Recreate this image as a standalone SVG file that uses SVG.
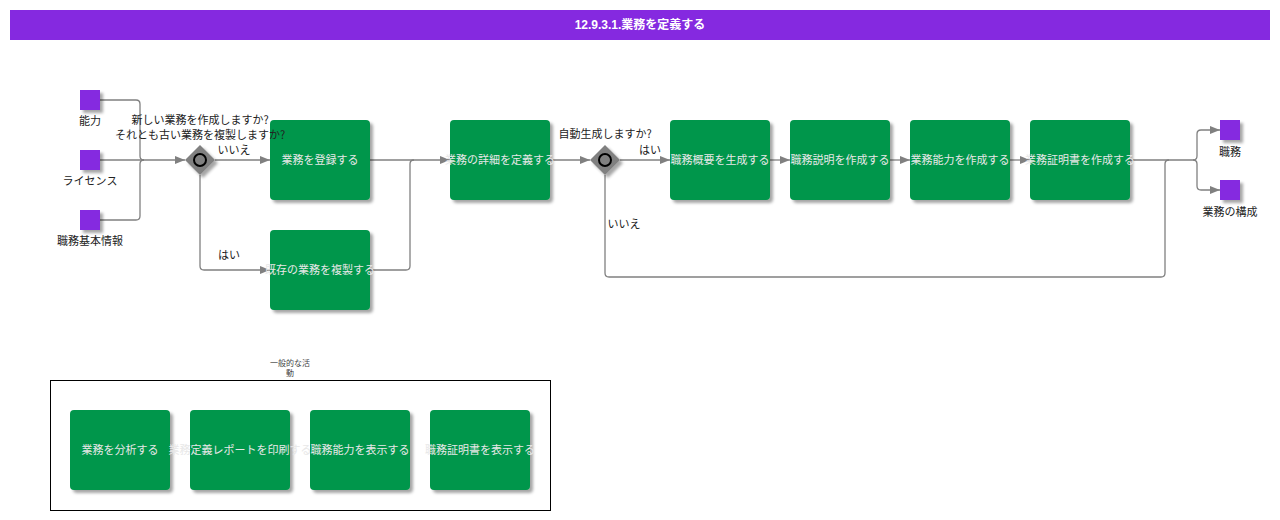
<svg xmlns="http://www.w3.org/2000/svg" width="1280" height="520" viewBox="0 0 1280 520">
<style>
.t{font-family:"Noto Sans CJK JP","Liberation Sans",sans-serif;font-size:11px;fill:#222}
.bt{font-family:"Noto Sans CJK JP","Liberation Sans",sans-serif;font-size:11px;fill:#e8e8e8}
.box{fill:#00964b}
.sq{fill:#8529e0}
.c{fill:none;stroke:#808080;stroke-width:1.3}
.gw{fill:#808080}
</style>
<defs>
<filter id="sh" x="-20%" y="-20%" width="150%" height="150%">
<feGaussianBlur in="SourceAlpha" stdDeviation="1.5"/>
<feOffset dx="3" dy="3" result="o"/>
<feFlood flood-color="#000" flood-opacity="0.35"/>
<feComposite in2="o" operator="in"/>
<feMerge><feMergeNode/><feMergeNode in="SourceGraphic"/></feMerge>
</filter>
<marker id="ar" viewBox="0 0 10 10" refX="10" refY="5" markerWidth="10" markerHeight="10" markerUnits="userSpaceOnUse" orient="auto">
<path d="M0,1 L10,5 L0,9 z" fill="#808080"/>
</marker>
</defs>
<rect width="1280" height="520" fill="#fff"/>
<g id="title">
<rect x="10" y="10" width="1260" height="30" fill="#8529e0"/>
<text x="640" y="29" text-anchor="middle" font-family="'Liberation Sans','Noto Sans CJK JP',sans-serif" font-size="12" font-weight="bold" fill="#fff">12.9.3.1.業務を定義する</text>
</g>
<g id="connectors">
<path class="c" d="M100,100 H136 Q140,100 140,104 V156 Q140,160 144,160"/>
<path class="c" d="M100,220 H136 Q140,220 140,216 V164 Q140,160 144,160"/>
<path class="c" d="M100,160 H185" marker-end="url(#ar)"/>
<path class="c" d="M215,160 H270" marker-end="url(#ar)"/>
<path class="c" d="M200,175 V266 Q200,270 204,270 H270" marker-end="url(#ar)"/>
<path class="c" d="M370,160 H450" marker-end="url(#ar)"/>
<path class="c" d="M370,270 H406 Q410,270 410,266 V164 Q410,160 414,160"/>
<path class="c" d="M550,160 H590" marker-end="url(#ar)"/>
<path class="c" d="M620,160 H670" marker-end="url(#ar)"/>
<path class="c" d="M605,175 V273 Q605,277 609,277 H1161 Q1165,277 1165,273 V164 Q1165,160 1169,160"/>
<path class="c" d="M770,160 H790" marker-end="url(#ar)"/>
<path class="c" d="M890,160 H910" marker-end="url(#ar)"/>
<path class="c" d="M1010,160 H1030" marker-end="url(#ar)"/>
<path class="c" d="M1130,160 H1193 Q1197,160 1197,156 V134 Q1197,130 1201,130 H1220" marker-end="url(#ar)"/>
<path class="c" d="M1193,160 Q1197,160 1197,164 V186 Q1197,190 1201,190 H1220" marker-end="url(#ar)"/>
<text class="t" x="234" y="154" text-anchor="middle">いいえ</text>
<text class="t" x="229" y="259" text-anchor="middle">はい</text>
<text class="t" x="650" y="154" text-anchor="middle">はい</text>
<text class="t" x="624" y="228" text-anchor="middle">いいえ</text>
</g>
<g id="in1"><rect class="sq" x="80" y="90" width="20" height="20" filter="url(#sh)"/><text class="t" x="90" y="125" text-anchor="middle">能力</text></g>
<g id="in2"><rect class="sq" x="80" y="150" width="20" height="20" filter="url(#sh)"/><text class="t" x="90" y="185" text-anchor="middle">ライセンス</text></g>
<g id="in3"><rect class="sq" x="80" y="210" width="20" height="20" filter="url(#sh)"/><text class="t" x="90" y="245" text-anchor="middle">職務基本情報</text></g>
<g id="b1"><rect class="box" x="270" y="120" width="100" height="80" rx="4" filter="url(#sh)"/><text class="bt" x="320" y="164" text-anchor="middle">業務を登録する</text></g>
<g id="b2"><rect class="box" x="270" y="230" width="100" height="80" rx="4" filter="url(#sh)"/><text class="bt" x="320" y="274" text-anchor="middle">既存の業務を複製する</text></g>
<g id="gw1">
<path class="gw" d="M200,145 L215,160 L200,175 L185,160 z" filter="url(#sh)"/>
<circle cx="200" cy="160" r="6" fill="none" stroke="#000" stroke-width="2"/>
<text class="t" x="200" y="124" text-anchor="middle">新しい業務を作成しますか?</text>
<text class="t" x="200" y="139" text-anchor="middle">それとも古い業務を複製しますか?</text>
</g>
<g id="b3"><rect class="box" x="450" y="120" width="100" height="80" rx="4" filter="url(#sh)"/><text class="bt" x="500" y="164" text-anchor="middle">業務の詳細を定義する</text></g>
<g id="gw2">
<path class="gw" d="M605,145 L620,160 L605,175 L590,160 z" filter="url(#sh)"/>
<circle cx="605" cy="160" r="6" fill="none" stroke="#000" stroke-width="2"/>
<text class="t" x="605" y="138" text-anchor="middle">自動生成しますか?</text>
</g>
<g id="b4"><rect class="box" x="670" y="120" width="100" height="80" rx="4" filter="url(#sh)"/><text class="bt" x="720" y="164" text-anchor="middle">職務概要を生成する</text></g>
<g id="b5"><rect class="box" x="790" y="120" width="100" height="80" rx="4" filter="url(#sh)"/><text class="bt" x="840" y="164" text-anchor="middle">職務説明を作成する</text></g>
<g id="b6"><rect class="box" x="910" y="120" width="100" height="80" rx="4" filter="url(#sh)"/><text class="bt" x="960" y="164" text-anchor="middle">業務能力を作成する</text></g>
<g id="b7"><rect class="box" x="1030" y="120" width="100" height="80" rx="4" filter="url(#sh)"/><text class="bt" x="1080" y="164" text-anchor="middle">業務証明書を作成する</text></g>
<g id="out1"><rect class="sq" x="1220" y="120" width="20" height="20" filter="url(#sh)"/><text class="t" x="1230" y="156" text-anchor="middle">職務</text></g>
<g id="out2"><rect class="sq" x="1220" y="180" width="20" height="20" filter="url(#sh)"/><text class="t" x="1230" y="216" text-anchor="middle">業務の構成</text></g>
<g id="general">
<rect x="50.5" y="380.5" width="500" height="130" fill="none" stroke="#000" stroke-width="1"/>
<text x="290" y="366" text-anchor="middle" font-family="'Noto Sans CJK JP',sans-serif" font-size="8" fill="#444">一般的な活</text>
<text x="290" y="376" text-anchor="middle" font-family="'Noto Sans CJK JP',sans-serif" font-size="8" fill="#444">動</text>
</g>
<g id="g1"><rect class="box" x="70" y="410" width="100" height="80" rx="4" filter="url(#sh)"/><text class="bt" x="120" y="454" text-anchor="middle">業務を分析する</text></g>
<g id="g2"><rect class="box" x="190" y="410" width="100" height="80" rx="4" filter="url(#sh)"/><text class="bt" x="240" y="454" text-anchor="middle">業務定義レポートを印刷する</text></g>
<g id="g3"><rect class="box" x="310" y="410" width="100" height="80" rx="4" filter="url(#sh)"/><text class="bt" x="360" y="454" text-anchor="middle">職務能力を表示する</text></g>
<g id="g4"><rect class="box" x="430" y="410" width="100" height="80" rx="4" filter="url(#sh)"/><text class="bt" x="480" y="454" text-anchor="middle">職務証明書を表示する</text></g>
</svg>
